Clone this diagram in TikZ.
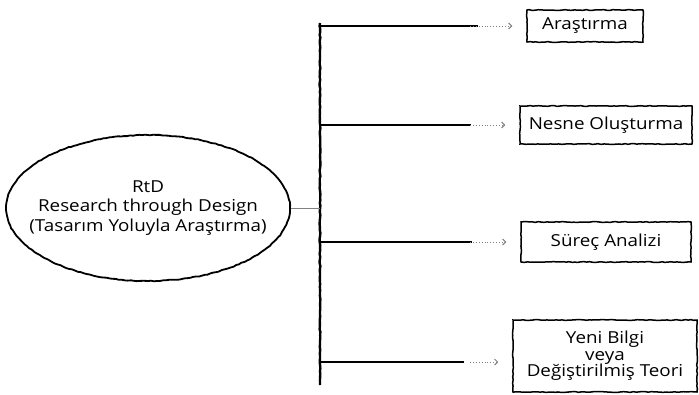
\documentclass[tikz,border=0pt]{standalone}
\usepackage{fontspec}
\setmainfont{Open Sans}[FakeStretch=1.14]
\usetikzlibrary{arrows.meta,shapes.geometric,decorations.pathmorphing}

\begin{document}
\begin{tikzpicture}[x=1pt,y=-1pt,
  rough/.style={decorate,decoration={random steps,segment length=3pt,amplitude=0.4pt}},
  box/.style={draw,line width=1.5pt,rough,align=center,inner sep=0pt,font=\fontsize{16.5}{16.5}\selectfont},
  branch/.style={line width=1.6pt,shorten >=48pt},
  fade/.style={line width=0.9pt,dotted,gray,-{Straight Barb[length=3pt,width=6pt,line width=1pt]},shorten <=150pt,shorten >=14pt}]
  \useasboundingbox (0,0) rectangle (699,394);
  \node[draw,ellipse,line width=1.8pt,rough,minimum width=284pt,minimum height=146pt,inner xsep=-30pt,inner ysep=0pt,align=center,font=\fontsize{16.5}{19.5}\selectfont] (rtd) at (148,208)
    {RtD\\Research through Design\\(Tasarım Yoluyla Araştırma)};
  \coordinate (top) at (320,23);
  \coordinate (bottom) at (320,385);
  \node[box,minimum width=116pt,minimum height=32pt] (arastirma) at (585,26) {Araştırma};
  \node[box,minimum width=172pt,minimum height=38pt] (nesne) at (606,125) {Nesne Oluşturma};
  \node[box,minimum width=170pt,minimum height=40pt] (surec) at (606,242) {Süreç Analizi};
  \node[box,minimum width=184pt,minimum height=72pt] (yeni) at (605,356) {Yeni Bilgi\\veya\\Değiştirilmiş Teori};
  \draw[line width=2.4pt,rough] (top) -- (bottom);
  \draw[gray,line width=0.8pt] (rtd.east) -- (rtd.east -| top);
  \coordinate (b1) at (arastirma.west -| top);
  \coordinate (b2) at (nesne.west -| top);
  \coordinate (b3) at (surec.west -| top);
  \coordinate (b4) at ([yshift=-6pt]yeni.west -| top);
  \draw[branch] (b1) -- (arastirma.west);
  \draw[fade] (b1) -- (arastirma.west);
  \draw[branch] (b2) -- (nesne.west);
  \draw[fade] (b2) -- (nesne.west);
  \draw[branch] (b3) -- (surec.west);
  \draw[fade] (b3) -- (surec.west);
  \draw[branch] (b4) -- (b4 -| yeni.west);
  \draw[fade] (b4) -- (b4 -| yeni.west);
\end{tikzpicture}
\end{document}
